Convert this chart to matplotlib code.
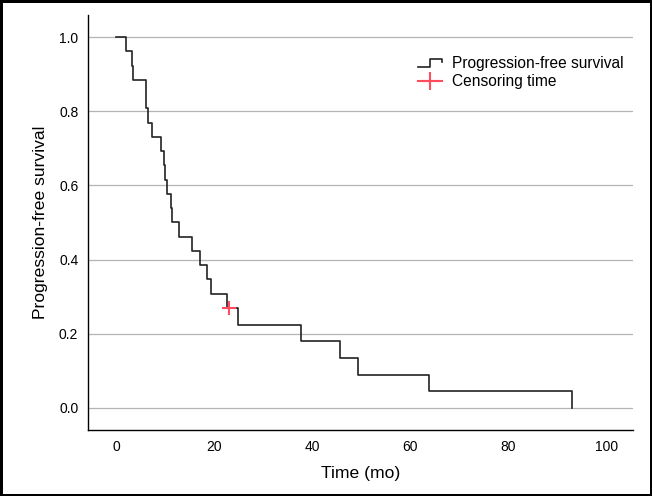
import numpy as np
import matplotlib.pyplot as plt
from matplotlib.legend_handler import HandlerBase
from matplotlib.lines import Line2D

plt.rcParams['font.family'] = ['Liberation Sans', 'DejaVu Sans']

# 随访时间（月）与事件标记（1=进展，0=删失）
times = [2.0, 3.3, 3.5, 6.1, 6.2, 6.6, 7.35, 9.2, 9.8, 10.0, 10.4, 11.2, 11.5,
         12.9, 15.6, 17.1, 18.5, 19.4, 22.6, 23.0, 24.8, 37.8, 45.7, 49.3,
         63.8, 93.0]
events = [1, 1, 1, 1, 1, 1, 1, 1, 1, 1, 1, 1, 1,
          1, 1, 1, 1, 1, 1, 0, 1, 1, 1, 1,
          1, 1]

x_ticks = [0, 20, 40, 60, 80, 100]
y_ticks = [0.0, 0.2, 0.4, 0.6, 0.8, 1.0]

# Kaplan-Meier 估计
t = np.array(times)
e = np.array(events)
order = np.argsort(t)
t, e = t[order], e[order]
n_risk = len(t)
surv = 1.0
step_x, step_y = [0.0], [1.0]
cens_x, cens_y = [], []
for ti, ei in zip(t, e):
    if ei == 1:
        surv *= (n_risk - 1) / n_risk
        step_x.append(ti)
        step_y.append(surv)
    else:
        cens_x.append(ti)
        cens_y.append(surv)
    n_risk -= 1


class StepHandler(HandlerBase):
    # 图例里画一个小台阶
    def create_artists(self, legend, orig_handle, xdescent, ydescent,
                       width, height, fontsize, trans):
        x0, x1 = -xdescent, -xdescent + width
        xm = x0 + width * 0.5
        yl, yh = -ydescent + height * 0.1, -ydescent + height * 0.85
        line = Line2D([x0, xm, xm, x1, x1],
                      [yl, yl, yh, yh, yh - height * 0.35],
                      color='#222222', lw=1.2, transform=trans)
        return [line]


fig = plt.figure(figsize=(6.52, 4.96), dpi=100)
fig.patch.set_edgecolor('black')
fig.patch.set_linewidth(2.5)
ax = fig.add_axes([0.135, 0.133, 0.836, 0.837])

ax.step(step_x, step_y, where='post', color='#222222', lw=1.2)
ax.plot(cens_x, cens_y, '+', color='#ff4d5e', ms=10, mew=1.5)

ax.set_xlim(-5.7, 105.5)
ax.set_ylim(-0.06, 1.06)
ax.set_xticks(x_ticks)
ax.set_yticks(y_ticks)
ax.set_yticklabels([f'{v:.1f}' for v in y_ticks])
ax.tick_params(length=0, labelsize=10, pad=7)
ax.grid(axis='y', color='#b4b4b4', lw=0.9)
ax.set_axisbelow(True)
for s in ['top', 'right']:
    ax.spines[s].set_visible(False)
for s in ['left', 'bottom']:
    ax.spines[s].set_linewidth(1.0)

ax.set_xlabel('Time (mo)', fontsize=12.6, labelpad=9)
ax.set_ylabel('Progression-free survival', fontsize=12.6, labelpad=8)

h_step = Line2D([], [], color='#222222')
h_cens = Line2D([], [], ls='-', lw=1.5, marker='+', color='#ff4d5e', ms=13, mew=1.5)
ax.legend([h_step, h_cens], ['Progression-free survival', 'Censoring time'],
          handler_map={h_step: StepHandler()},
          loc='upper right', bbox_to_anchor=(1.008, 0.935), frameon=False,
          fontsize=11.2, handlelength=1.55, handletextpad=0.6, labelspacing=0.2)

fig.savefig('out.png', dpi=100, edgecolor=fig.get_edgecolor())
